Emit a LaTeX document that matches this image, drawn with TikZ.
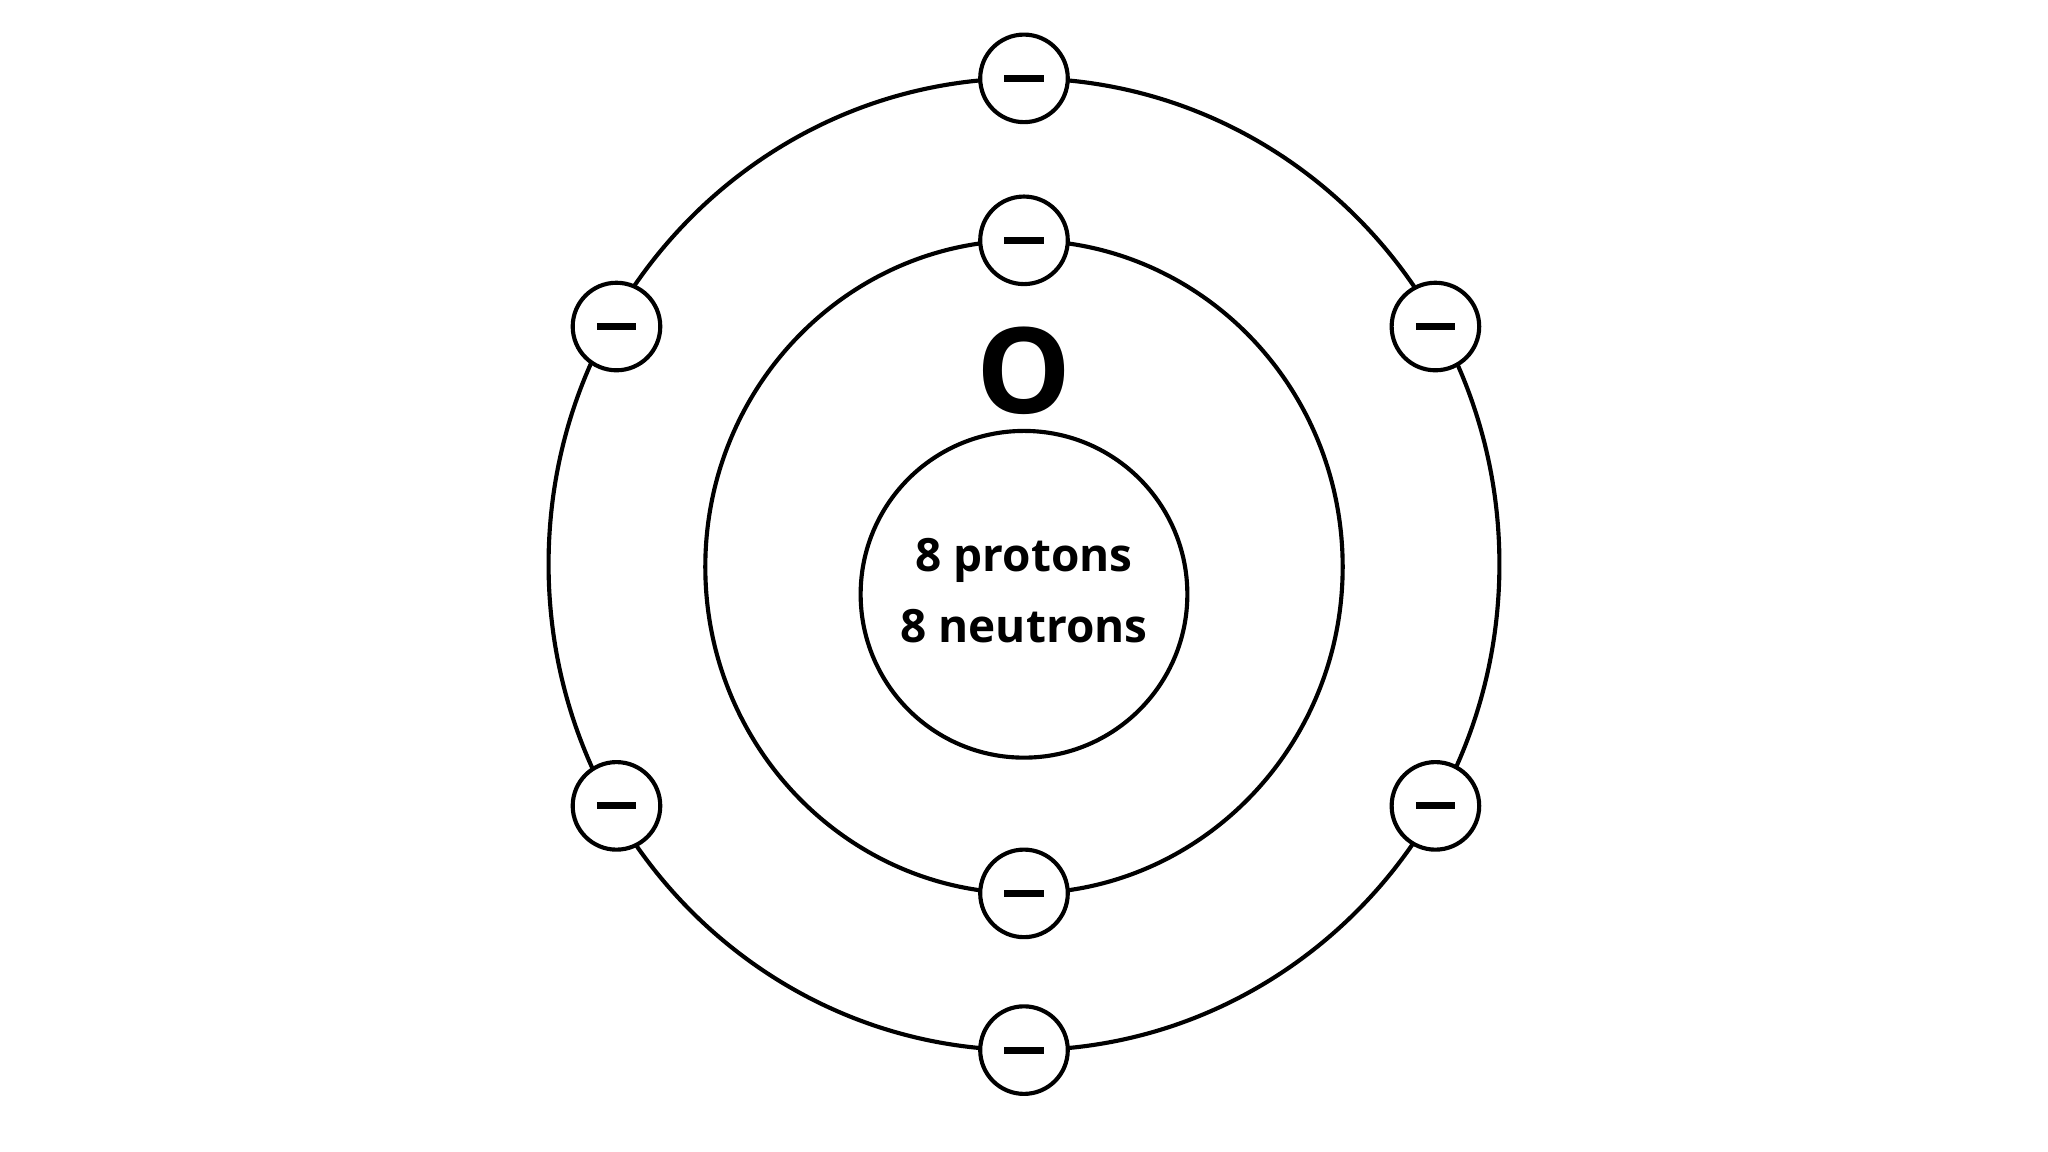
\documentclass[tikz,border=0pt]{standalone}
\usepackage{fontspec}
\setmainfont{Open Sans}
\begin{document}
\begin{tikzpicture}[x=0.01cm,y=-0.01cm,line width=0.9pt,
  orbit/.style={draw=black},
  elec/.style={circle,draw=black,fill=white,minimum size=0.67cm,inner sep=0pt,line width=0.9pt},
  bar/.style={line width=1.5pt}]
\useasboundingbox (0,0) rectangle (1568,882);
\draw[orbit] (784,432) ellipse [x radius=364, y radius=372];
\draw[orbit] (784,434) ellipse [x radius=244, y radius=250];
\node[circle,draw,minimum size=2.5cm,inner sep=0pt,line width=0.9pt] (nuc) at (784,455) {};
\node[align=center,font=\fontsize{10}{15.5}\selectfont\bfseries] (lab) at (784,452) {8 protons\\8 neutrons};
\node[font=\fontsize{26}{28}\selectfont\bfseries] (sym) at (784,284) {O};
\foreach \n/\x/\y in {o1/784/60,o2/472/250,o3/1099/250,o4/472/617,o5/1099/617,o6/784/804,i1/784/184,i2/784/684}{
  \node[elec] (\n) at (\x,\y) {};
  \draw[bar] ([xshift=-0.15cm]\n.center) -- ([xshift=0.15cm]\n.center);
}
\end{tikzpicture}
\end{document}
